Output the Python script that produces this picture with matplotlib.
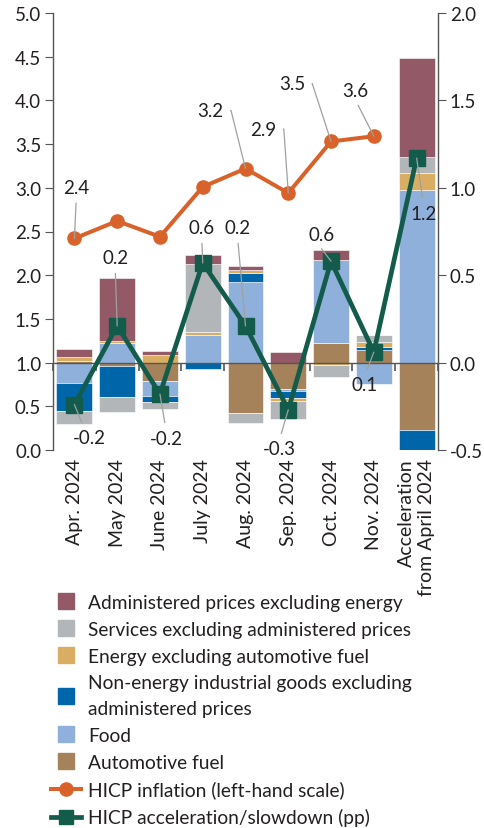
import numpy as np
import matplotlib.pyplot as plt
from matplotlib.lines import Line2D
from matplotlib.ticker import FormatStrFormatter

plt.rcParams['font.family'] = ['Lato', 'DejaVu Sans']

categories = ['Apr. 2024', 'May 2024', 'June 2024', 'July 2024', 'Aug. 2024',
              'Sep. 2024', 'Oct. 2024', 'Nov. 2024', 'Acceleration\nfrom April 2024']

# contributions to the change in HICP inflation, pp (right-hand scale)
automotive_fuel = [0.012, -0.017, -0.103, 0.0, -0.288, -0.151, 0.112, 0.074, -0.386]
food = [-0.117, 0.113, -0.086, 0.158, 0.46, -0.013, 0.477, -0.124, 0.988]
non_energy_goods = [-0.158, -0.18, -0.038, -0.036, 0.053, -0.038, 0.0, 0.013, -0.124]
energy = [0.019, 0.013, 0.046, 0.015, 0.019, -0.015, -0.015, 0.03, 0.097]
services = [-0.076, -0.086, -0.038, 0.392, -0.057, -0.105, -0.07, 0.042, 0.09]
administered = [0.048, 0.36, 0.018, 0.052, 0.023, 0.058, 0.055, 0.0, 0.567]

acceleration = [-0.24, 0.21, -0.18, 0.57, 0.21, -0.27, 0.58, 0.06, 1.17]
inflation = [2.42, 2.62, 2.44, 3.01, 3.22, 2.94, 3.53, 3.59]

TEXT = '#231f20'
AXIS = '#555555'
ORANGE = '#d9622b'
GREEN = '#135c4c'
LEADER = '#a0a0a0'

# stacking order, from the zero line outwards
components = [
    ('Automotive fuel', automotive_fuel, '#a5825a'),
    ('Food', food, '#8fb0da'),
    ('Non-energy industrial goods excluding\nadministered prices', non_energy_goods, '#0066aa'),
    ('Energy excluding automotive fuel', energy, '#d9ae62'),
    ('Services excluding administered prices', services, '#b2b6b9'),
    ('Administered prices excluding energy', administered, '#935966'),
]

fig = plt.figure(figsize=(4.84, 8.29), dpi=100)
ax = fig.add_axes([53 / 484, 1 - 451 / 829, 385 / 484, 437 / 829])
ax2 = ax.twinx()

x = np.arange(len(categories))
pos_base = np.zeros(len(x))
neg_base = np.zeros(len(x))
for name, vals, color in components:
    v = np.array(vals)
    base = np.where(v >= 0, pos_base, neg_base)
    ax2.bar(x, v, width=0.84, bottom=base, color=color, edgecolor='white',
            linewidth=0.4, zorder=1)
    pos_base += np.clip(v, 0, None)
    neg_base += np.clip(v, None, 0)

ax2.plot(x, acceleration, color=GREEN, lw=3.4, marker='s', ms=11.3, zorder=4)
ax.plot(x[:len(inflation)], inflation, color=ORANGE, lw=2.9, marker='o', ms=9.5, zorder=4)

ax.set_xlim(-0.5, len(x) - 0.5)
ax.set_ylim(0, 5)
ax2.set_ylim(-0.5, 2.0)
ax.set_yticks(np.arange(0, 5.01, 0.5))
ax2.set_yticks(np.arange(-0.5, 2.01, 0.5))
ax.yaxis.set_major_formatter(FormatStrFormatter('%.1f'))
ax2.yaxis.set_major_formatter(FormatStrFormatter('%.1f'))

for a in (ax, ax2):
    for s in a.spines.values():
        s.set_visible(False)
ax.spines['left'].set_visible(True)
ax2.spines['right'].set_visible(True)
ax2.spines['bottom'].set_visible(True)
ax2.spines['bottom'].set_position(('data', 0))
for s in (ax.spines['left'], ax2.spines['right'], ax2.spines['bottom']):
    s.set_color(AXIS)
    s.set_linewidth(1.0)
    s.set_zorder(3)

ax.tick_params(axis='y', length=5.5, width=0.8, color=AXIS, labelsize=13.5,
               labelcolor=TEXT, pad=3)
ax2.tick_params(axis='y', length=5.5, width=0.8, color=AXIS, labelsize=13.5,
                labelcolor=TEXT, pad=3)

# category labels at the bottom, category separators on the zero line
ax.set_xticks(x, labels=categories, rotation=90, ha='center', va='top',
              multialignment='right')
ax.set_xticks(np.r_[x[:-1] + 0.5, -0.5, len(x) - 0.5], minor=True)
ax.tick_params(axis='x', which='major', length=0, labelsize=14, labelcolor=TEXT, pad=6)
ax.tick_params(axis='x', which='minor', length=0)
ax2.xaxis.set_visible(True)
ax2.tick_params(axis='x', which='major', length=0, labelbottom=False)
ax2.tick_params(axis='x', which='minor', length=6, width=1.2, color=AXIS,
                direction='out', bottom=True, top=False)


def leader_label(axis, xv, yv, text, dx, dy, relpos, conn='arc3'):
    axis.annotate(text, xy=(xv, yv), xytext=(dx, dy), textcoords='offset pixels',
                  ha='center', va='center', fontsize=13.5, color=TEXT, zorder=6,
                  arrowprops=dict(arrowstyle='-', color=LEADER, lw=0.9,
                                  shrinkA=3, shrinkB=0, relpos=relpos,
                                  connectionstyle=conn))


inflation_labels = {
    0: (2, 51, (0.5, 0), 'arc3'),
    4: (-35, 58, (1, 0.5), 'angle,angleA=0,angleB=104,rad=0'),
    5: (-25, 64, (1, 0.5), 'angle,angleA=0,angleB=94,rad=0'),
    6: (-39, 58, (1, 0.5), 'angle,angleA=0,angleB=108,rad=0'),
    7: (-19, 46, (0.5, 0), 'arc3'),
}
for i, (dx, dy, rp, conn) in inflation_labels.items():
    leader_label(ax, x[i], inflation[i], f'{inflation[i]:.1f}', dx, dy, rp, conn)

acceleration_labels = [
    (15, -33, (0.35, 1)),
    (-2, 68, (0.5, 0)),
    (6, -44, (0.5, 1)),
    (-1, 35, (0.5, 0)),
    (-8, 98, (0.5, 0)),
    (-9, -39, (0.5, 1)),
    (-9, 27, (0.3, 0)),
    (-9, -32, (0.5, 1)),
    (7, -55, (0.5, 1)),
]
for i, (dx, dy, rp) in enumerate(acceleration_labels):
    leader_label(ax2, x[i], acceleration[i], f'{acceleration[i]:.1f}', dx, dy, rp)

handles = [Line2D([], [], marker='s', ls='none', ms=11.5, mfc=c, mec=c)
           for _, _, c in components[::-1]]
labels = [n for n, _, _ in components[::-1]]
handles += [Line2D([], [], color=ORANGE, lw=2.9, marker='o', ms=9.5),
            Line2D([], [], color=GREEN, lw=3.4, marker='s', ms=10)]
labels += ['HICP inflation (left-hand scale)', 'HICP acceleration/slowdown (pp)']
leg = fig.legend(handles, labels, loc='upper left', bbox_to_anchor=(51 / 484, 1 - 595 / 829),
                 frameon=False, fontsize=13.8, handlelength=1.56, handletextpad=0.36,
                 labelspacing=0.51, borderpad=0, borderaxespad=0)
for t in leg.get_texts():
    t.set_color(TEXT)
    t.set_linespacing(1.64)

fig.savefig('out.png', dpi=100)
